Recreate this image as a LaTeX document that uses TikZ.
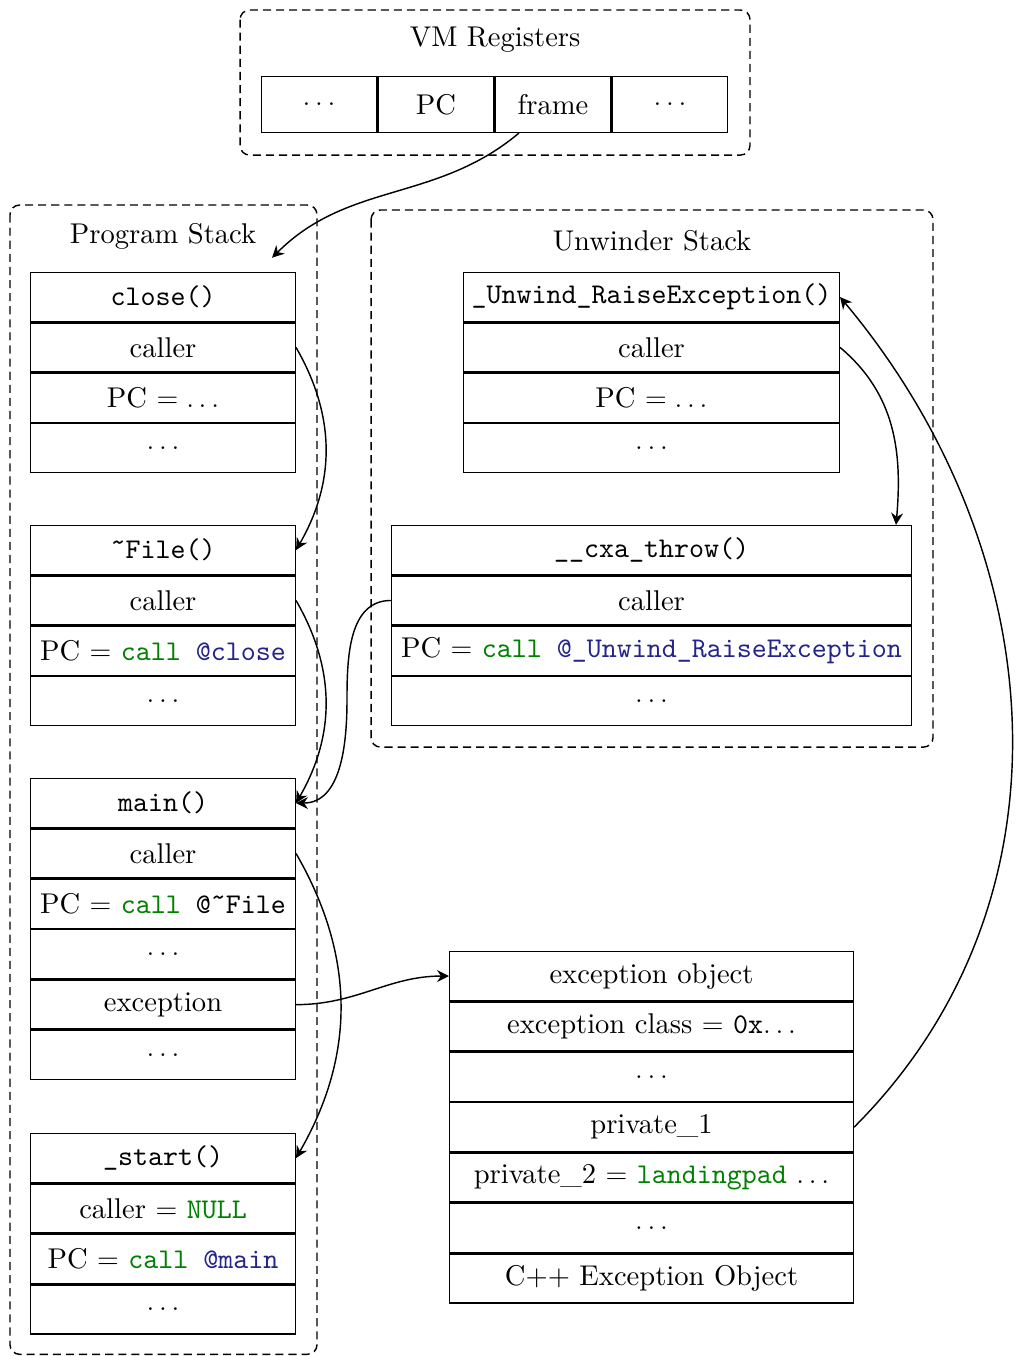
\documentclass[tikz,border=0pt,12pt]{standalone}
\usepackage{fontspec}
\setmainfont{lmroman10-regular.otf}[BoldFont=lmroman10-bold.otf, ItalicFont=lmroman10-italic.otf]
\setmonofont{lmmono10-regular.otf}
\usetikzlibrary{positioning, arrows.meta}

\definecolor{kwgreen}{RGB}{0,128,0}
\definecolor{symblue}{RGB}{36,36,140}
\newcommand{\kw}[1]{\textcolor{kwgreen}{#1}}
\newcommand{\fn}[1]{\textcolor{symblue}{#1}}
\newcommand{\tld}{\symbol{"02DC}}

\begin{document}
\begin{tikzpicture}[
  line width=0.6pt,
  cell/.style={draw, minimum height=0.723cm, inner sep=0pt},
  pcell/.style={cell, minimum width=3.906cm},
  ucell/.style={cell, minimum width=5.545cm},
  xcell/.style={cell, minimum width=7.671cm},
  ecell/.style={cell, minimum width=5.959cm},
  reg/.style={draw, minimum width=1.706cm, minimum height=0.821cm, inner sep=0pt},
  group/.style={draw, dash pattern=on 3.4pt off 2.1pt, rounded corners=4pt},
  ptr/.style={-{Stealth[length=5pt,width=5pt]}},
]
\useasboundingbox (0,0) rectangle (15,-20.02);

% VM registers
\draw[group] (3.544,-0.148) rectangle (11.073,-2.289);
\node (vmlabel) at (7.31,-0.59) {VM Registers};
\node[reg] (reg1) at (4.71,-1.543) {$\ldots$};
\node[reg, right=0pt of reg1] (pc) {PC};
\node[reg, right=0pt of pc] (frame) {frame};
\node[reg, right=0pt of frame] (reg4) {$\ldots$};

% program stack
\draw[group] (0.148,-3.027) rectangle (4.68,-19.995);
\node (pslabel) at (2.407,-3.485) {Program Stack};

\node[pcell, font=\ttfamily] (close) at (2.407,-4.385) {close()};
\node[pcell, below=0pt of close] (closecaller) {caller};
\node[pcell, below=0pt of closecaller] (closepc) {PC $= \ldots$};
\node[pcell, below=0pt of closepc] (closedots) {$\ldots$};

\node[pcell, font=\ttfamily] (file) at (2.407,-8.121) {\tld File()};
\node[pcell, below=0pt of file] (filecaller) {caller};
\node[pcell, below=0pt of filecaller] (filepc) {PC $=$ \texttt{\kw{call} \fn{@close}}};
\node[pcell, below=0pt of filepc] (filedots) {$\ldots$};

\node[pcell, font=\ttfamily] (main) at (2.407,-11.856) {main()};
\node[pcell, below=0pt of main] (maincaller) {caller};
\node[pcell, below=0pt of maincaller] (mainpc) {PC $=$ \texttt{\kw{call} @\tld File}};
\node[pcell, below=0pt of mainpc] (maindots) {$\ldots$};
\node[pcell, below=0pt of maindots] (mainexc) {exception};
\node[pcell, below=0pt of mainexc] (maindots2) {$\ldots$};

\node[pcell, font=\ttfamily] (start) at (2.407,-17.098) {\_start()};
\node[pcell, below=0pt of start] (startcaller) {caller $=$ \texttt{\kw{NULL}}};
\node[pcell, below=0pt of startcaller] (startpc) {PC $=$ \texttt{\kw{call} \fn{@main}}};
\node[pcell, below=0pt of startpc] (startdots) {$\ldots$};

% unwinder stack
\draw[group] (5.478,-3.1) rectangle (13.775,-11.03);
\node (uslabel) at (9.627,-3.558) {Unwinder Stack};

\node[ucell, font=\ttfamily] (unwind) at (9.619,-4.385) {\_Unwind\_RaiseException()};
\node[ucell, below=0pt of unwind] (unwindcaller) {caller};
\node[ucell, below=0pt of unwindcaller] (unwindpc) {PC $= \ldots$};
\node[ucell, below=0pt of unwindpc] (unwinddots) {$\ldots$};

\node[xcell, font=\ttfamily] (cxa) at (9.619,-8.121) {\_\_cxa\_throw()};
\node[xcell, below=0pt of cxa] (cxacaller) {caller};
\node[xcell, below=0pt of cxacaller] (cxapc) {PC $=$ \texttt{\kw{call} \fn{@\_Unwind\_RaiseException}}};
\node[xcell, below=0pt of cxapc] (cxadots) {$\ldots$};

% exception object
\node[ecell] (exc) at (9.619,-14.41) {exception object};
\node[ecell, below=0pt of exc] (excclass) {exception class $=$ \texttt{0x}$\ldots$};
\node[ecell, below=0pt of excclass] (excdots) {$\ldots$};
\node[ecell, below=0pt of excdots] (excpriv1) {private\_1};
\node[ecell, below=0pt of excpriv1] (excpriv2) {private\_2 $=$ \texttt{\kw{landingpad}} $\ldots$};
\node[ecell, below=0pt of excpriv2] (excdots2) {$\ldots$};
\node[ecell, below=0pt of excdots2] (excname) {C++ Exception Object};

% pointers
\coordinate (pstop) at ([xshift=-0.354cm,yshift=0.207cm]close.north east);
\coordinate (cxatop) at ([xshift=-0.236cm]cxa.north east);
\coordinate (throwbend) at (5.123,-10.335);
\draw[ptr] (frame) to[out=-140,in=45] (pstop);
\draw[ptr] (closecaller.east) to[out=-60,in=60] (file.east);
\draw[ptr] (filecaller.east) to[out=-60,in=60] (main.east);
\draw[ptr] (maincaller.east) to[out=-60,in=60] (start.east);
\draw[ptr] (cxacaller.west) to[out=180,in=90] (throwbend) to[out=-90,in=0] (main.east);
\draw[ptr] (unwindcaller.east) to[out=-40,in=85] (cxatop);
\draw[ptr] (mainexc.east) to[out=0,in=180] (exc.west);
\draw[ptr] (excpriv1.east) to[out=45,in=-50] (unwind.east);

\end{tikzpicture}
\end{document}
